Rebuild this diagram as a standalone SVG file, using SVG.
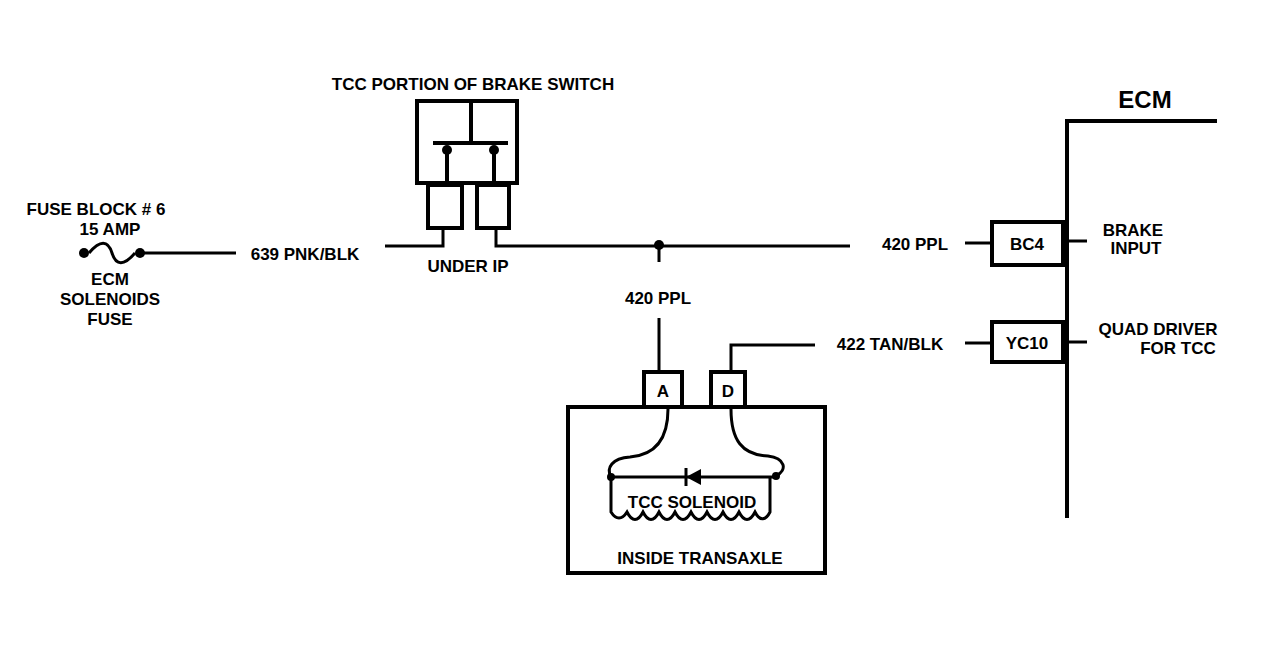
<svg xmlns="http://www.w3.org/2000/svg" width="1278" height="651" viewBox="0 0 1278 651">
<style>
.w{fill:none;stroke:#000;stroke-width:3}
.b{fill:none;stroke:#000;stroke-width:4}
text{font-family:"Liberation Sans",Arial,sans-serif;font-weight:bold;font-size:17px;fill:#000}
.c{text-anchor:middle}
</style>
<rect width="1278" height="651" fill="#fff"/>
<g id="connectors">
<path class="w" d="M140 253H236"/>
<path class="w" d="M385 246H443V228"/>
<path class="w" d="M496 228V246H850"/>
<path class="w" d="M965 243H992"/>
<path class="w" d="M659 246V262M659 318V372"/>
<path class="w" d="M731 372V345H815"/>
<path class="w" d="M965 343H992"/>
<path class="w" d="M1063 243H1067M1063 342H1067M1067 241H1087M1067 342H1087"/>
<circle cx="659" cy="245" r="5"/>
</g>
<g id="fuse">
<text x="96" y="215" class="c">FUSE BLOCK # 6</text>
<text x="110" y="235" class="c">15 AMP</text>
<circle cx="84" cy="253" r="5"/><circle cx="140" cy="253" r="5"/>
<path class="w" d="M89 253C100 240 108 240 112 253S124 266 135 253"/>
<text x="110" y="285" class="c">ECM</text>
<text x="110" y="305" class="c">SOLENOIDS</text>
<text x="110" y="325" class="c">FUSE</text>
<text x="305" y="260" class="c">639 PNK/BLK</text>
</g>
<g id="brake-switch">
<text x="473" y="90" class="c">TCC PORTION OF BRAKE SWITCH</text>
<rect class="b" x="417" y="101" width="100" height="82"/>
<path class="b" d="M471 101V142M433 143H508M447 150V183M494 150V183"/>
<circle cx="447" cy="150" r="5"/><circle cx="494" cy="150" r="5"/>
<rect class="b" x="428" y="185" width="34" height="43"/>
<rect class="b" x="477" y="185" width="32" height="43"/>
<text x="468" y="272" class="c">UNDER IP</text>
</g>
<g id="ppl-labels">
<text x="658" y="304" class="c">420 PPL</text>
<text x="915" y="250" class="c">420 PPL</text>
<text x="890" y="350" class="c">422 TAN/BLK</text>
</g>
<g id="ecm">
<text x="1145" y="108" class="c" style="font-size:24px">ECM</text>
<path class="b" d="M1067 518V121H1217"/>
<rect class="b" x="992" y="222" width="71" height="43"/>
<text x="1027" y="250" class="c">BC4</text>
<rect class="b" x="992" y="322" width="71" height="40"/>
<text x="1027" y="349" class="c">YC10</text>
<text x="1133" y="236" class="c">BRAKE</text>
<text x="1136" y="254" class="c">INPUT</text>
<text x="1158" y="335" class="c">QUAD DRIVER</text>
<text x="1178" y="354" class="c">FOR TCC</text>
</g>
<g id="transaxle">
<rect class="b" x="568" y="407" width="257" height="166"/>
<rect class="b" x="644" y="372" width="38" height="35"/>
<text x="663" y="397" class="c">A</text>
<rect class="b" x="711" y="372" width="34" height="35"/>
<text x="728" y="397" class="c">D</text>
<path class="w" d="M668 409C668 440 655 455 630 457C612 458 606 468 611 477"/>
<path class="w" d="M731 409C731 440 742 455 768 456C785 458 788 470 776 476"/>
<path class="w" d="M611 477H776"/>
<path d="M686 477L701 469V485Z"/><path class="w" d="M686 468V486"/>
<path class="w" d="M611 477V512C616 520 622 520 627 512C632 522 638 522 643 512C648 522 654 522 659 512C664 522 670 522 675 512C680 522 686 522 691 512C696 522 702 522 707 512C712 522 718 522 723 512C728 522 734 522 739 512C744 522 750 522 755 512C760 522 766 520 770 512V477"/>
<circle cx="611" cy="477" r="4"/><circle cx="776" cy="476" r="4"/>
<text x="692" y="508" class="c">TCC SOLENOID</text>
<text x="700" y="564" class="c">INSIDE TRANSAXLE</text>
</g>
</svg>
